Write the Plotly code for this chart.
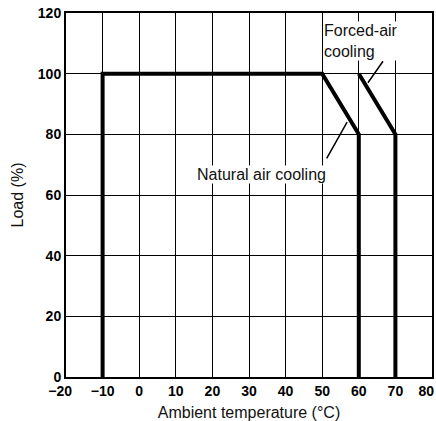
import plotly.graph_objects as go

natural_x = [-10, -10, 50, 60, 60]
natural_y = [0, 100, 100, 80, 0]
forced_x = [60, 70, 70]
forced_y = [100, 80, 0]
x_ticks = [-20, -10, 0, 10, 20, 30, 40, 50, 60, 70, 80]
x_tick_labels = ["\u221220", "\u221210", "0", "10", "20", "30", "40", "50", "60", "70", "80"]
y_ticks = [0, 20, 40, 60, 80, 100, 120]

FAM = "Liberation Sans, Arial"
NB = "\u00a0"
# edge labels nudged inward (as in the reference) using trailing non-breaking spaces
x_tick_text = list(x_tick_labels)
x_tick_text[0] = x_tick_text[0] + NB * 3
x_tick_text[-1] = x_tick_text[-1] + NB * 3

fig = go.Figure()
fig.add_trace(go.Scatter(x=natural_x, y=natural_y, mode="lines",
                         line=dict(color="black", width=4), showlegend=False))
fig.add_trace(go.Scatter(x=forced_x, y=forced_y, mode="lines",
                         line=dict(color="black", width=4), showlegend=False))

font = dict(family=FAM, size=16, color="#111")
fig.add_annotation(x=62.5, y=97, ax=66.9, ay=104.6, xref="x", yref="y", axref="x", ayref="y",
                   showarrow=True, arrowhead=0, arrowwidth=1.5, arrowcolor="black", text="")
fig.add_annotation(x=56.8, y=84, ax=51, ay=71.6, xref="x", yref="y", axref="x", ayref="y",
                   showarrow=True, arrowhead=0, arrowwidth=1.5, arrowcolor="black", text="")
fig.add_annotation(x=50.3, y=117.3, xref="x", yref="y", text="Forced-air<br>cooling",
                   showarrow=False, xanchor="left", yanchor="top", align="left", font=font,
                   bgcolor="white", borderpad=0)
fig.add_annotation(x=33.5, y=66.7, xref="x", yref="y", text="Natural air cooling",
                   showarrow=False, font=font, bgcolor="white", borderpad=0)

tickfont = dict(family=FAM, size=14, color="black", weight="bold")
fig.update_layout(
    width=436, height=421,
    margin=dict(l=66, r=4, t=13, b=44),
    plot_bgcolor="white", paper_bgcolor="white",
    font=font,
    xaxis=dict(range=[-20, 80], tickvals=x_ticks, ticktext=x_tick_text,
               showgrid=True, gridcolor="black", gridwidth=1, zeroline=False,
               showline=True, linecolor="black", linewidth=2, mirror=True,
               ticks="", tickfont=tickfont, automargin=False, ticklabeloverflow="allow",
               title=dict(text="Ambient temperature (\u00b0C)", standoff=11,
                          font=dict(family=FAM, size=16, color="#111"))),
    yaxis=dict(range=[0, 120], tickvals=y_ticks,
               showgrid=True, gridcolor="black", gridwidth=1, zeroline=False,
               showline=True, linecolor="black", linewidth=2, mirror=True,
               ticks="", tickfont=tickfont, automargin=False, ticklabeloverflow="allow",
               title=dict(text="Load (%)", standoff=10,
                          font=dict(family=FAM, size=16, color="#111"))),
)
fig.write_html("out.html", config={"displayModeBar": False},
               post_script="document.body.style.margin='0';document.body.style.overflow='hidden';")
